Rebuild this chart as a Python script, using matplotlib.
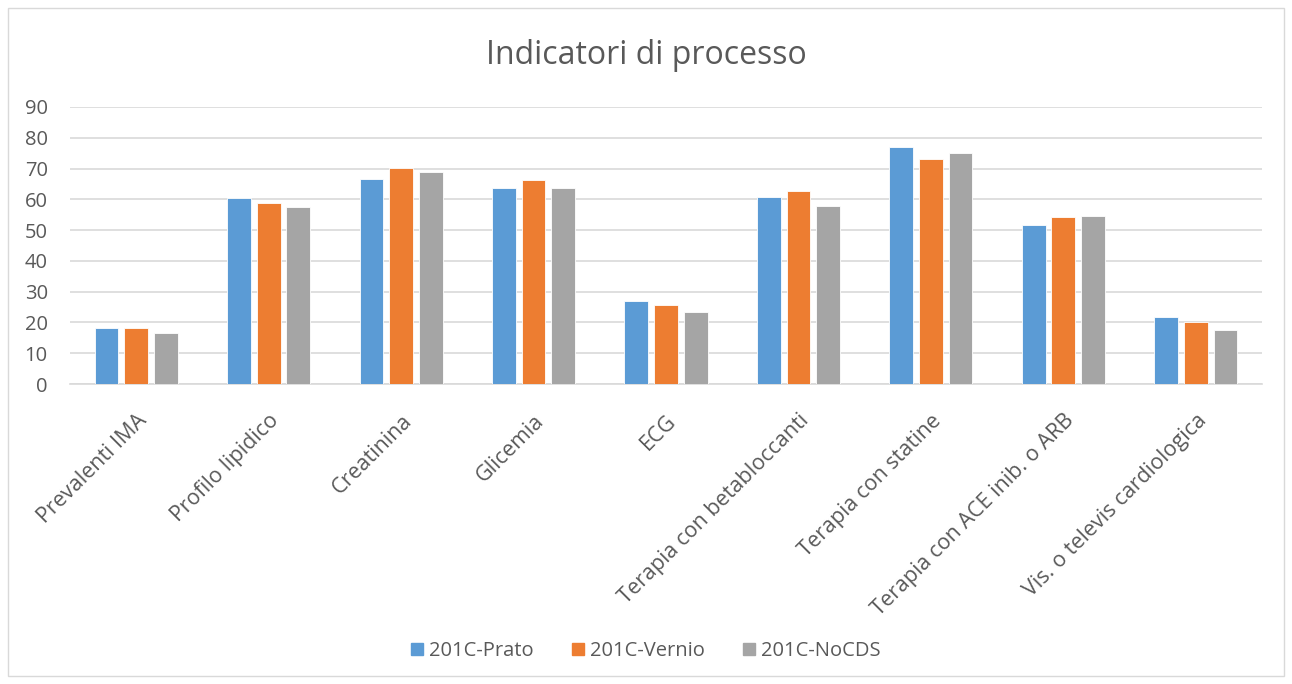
import matplotlib.pyplot as plt
import matplotlib.patches as mpatches
import numpy as np

categories = ["Prevalenti IMA", "Profilo lipidico", "Creatinina", "Glicemia", "ECG",
              "Terapia con betabloccanti", "Terapia con statine",
              "Terapia con ACE inib. o ARB", "Vis. o televis cardiologica"]
prato = [18.1, 60.4, 66.6, 63.6, 27.1, 60.7, 77.1, 51.8, 21.7]
vernio = [18.3, 58.7, 70.1, 66.3, 25.8, 62.6, 73.2, 54.3, 20.1]
nocds = [16.6, 57.4, 69.0, 63.7, 23.4, 57.7, 75.2, 54.7, 17.4]
series = ["201C-Prato", "201C-Vernio", "201C-NoCDS"]
colors = ["#5B9BD5", "#ED7D31", "#A5A5A5"]
yticks = [0, 10, 20, 30, 40, 50, 60, 70, 80, 90]

plt.rcParams["font.family"] = ["Open Sans", "DejaVu Sans"]
txt = "#595959"

fig = plt.figure(figsize=(12.92, 6.84), dpi=100)
ax = fig.add_axes([70 / 1292, 1 - 384 / 684, 1192 / 1292, 277 / 684])

x = np.arange(len(categories))
for i, (vals, name, c) in enumerate(zip([prato, vernio, nocds], series, colors)):
    ax.bar(x + (i - 1) * 0.224, vals, width=0.18, color=c, label=name,
           edgecolor="white", linewidth=0.6, zorder=3)

ax.set_xlim(-0.5, len(categories) - 0.5)
ax.set_ylim(0, 90)
ax.set_yticks(yticks)
ax.grid(axis="y", color="#d9d9d9", linewidth=1.2, zorder=0)
for s in ["top", "right", "left"]:
    ax.spines[s].set_visible(False)
ax.spines["bottom"].set_color("#d9d9d9")
ax.spines["bottom"].set_linewidth(1.2)
ax.tick_params(axis="y", length=0, colors=txt, labelsize=14.5, pad=16)
ax.set_xticks(x)
ax.set_xticklabels(categories, rotation=45, ha="right", rotation_mode="anchor")
ax.tick_params(axis="x", length=0, colors=txt, labelsize=15.5, pad=19)

fig.text(0.5, 1 - 55 / 684, "Indicatori di processo", ha="center", va="center",
         fontsize=23, color=txt)

handles = [mpatches.Patch(color=c, label=n) for c, n in zip(colors, series)]
fig.legend(handles=handles, loc="center", bbox_to_anchor=(0.5, 1 - 651 / 684),
           ncol=3, frameon=False, fontsize=14.5, labelcolor=txt,
           handlelength=0.6, handleheight=0.6, handletextpad=0.3, columnspacing=1.9)

fig.patches.append(mpatches.Rectangle((8 / 1292, 8 / 684), 1276 / 1292, 668 / 684,
                                      transform=fig.transFigure, fill=False,
                                      edgecolor="#d9d9d9", linewidth=1))

fig.savefig("out.png", dpi=100)
